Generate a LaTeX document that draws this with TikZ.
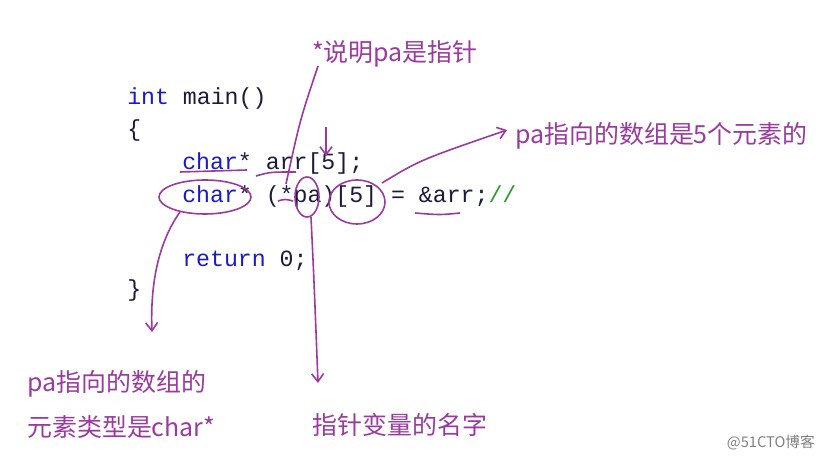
\documentclass[tikz,border=0pt]{standalone}
\usepackage{fontspec}
\setmonofont{Liberation Mono}
\newfontfamily\cjk{Noto Sans CJK SC}
\usetikzlibrary{arrows.meta}
\definecolor{pur}{HTML}{9A3A9E}
\definecolor{kw}{HTML}{1A1AC8}
\definecolor{cm}{HTML}{2E9A2E}
\definecolor{tx}{HTML}{1A1A3A}
\tikzset{
 code/.style={anchor=west,inner sep=0pt,font=\fontsize{17.4}{19}\ttfamily,text=tx},
 lbl/.style={inner sep=0pt,font=\fontsize{18.7}{21}\cjk,text=pur},
 ann/.style={draw=pur,line width=1.2pt},
 arr/.style={ann,-{Straight Barb[length=6pt,width=9pt]}}
}
\begin{document}
\begin{tikzpicture}[x=0.75pt,y=-0.75pt]
\useasboundingbox (0,0) rectangle (825,463);
\node[code] (l1) at (127,99) {\textcolor{kw}{int} main()};
\node[code] (l2) at (127,131) {\{};
\node[code] (l3) at (182,164) {\textcolor{kw}{char}* arr[5];};
\node[code] (l4) at (182,197) {\textcolor{kw}{char}* (*pa)[5] = \&arr;\textcolor{cm}{//}};
\node[code] (l5) at (182,261) {\textcolor{kw}{return} 0;};
\node[code] (l6) at (127,291) {\}};
\node[lbl] (t1) at (395,54) {*说明pa是指针};
\node[lbl,anchor=west] (t2) at (515,136) {pa指向的数组是5个元素的};
\node[lbl,anchor=west] (t3) at (27,384) {pa指向的数组的};
\node[lbl,anchor=west] (t4) at (27,427) {元素类型是char*};
\node[lbl] (t5) at (400,425) {指针变量的名字};
\node[anchor=east,inner sep=0pt,font=\fontsize{11}{13}\cjk,text=gray] (wm) at (815,443) {@51CTO博客};
\draw[ann] (205,197) ellipse [x radius=46,y radius=17];
\draw[ann] (307,197) ellipse [x radius=12,y radius=20];
\draw[ann] (357,202) ellipse [x radius=28,y radius=22];
\coordinate (e1) at (180,212);
\coordinate (e1b) at (152,332);
\coordinate (e2) at (311,217);
\coordinate (e2b) at (318,383);
\coordinate (e3) at (382,183);
\coordinate (e3b) at (507,130);
\coordinate (p1) at (318,66);
\coordinate (p1b) at (286,184);
\coordinate (s1) at (326,127);
\coordinate (s1b) at (326,156);
\draw[arr] (e1) .. controls (160,240) and (150,280) .. (e1b);
\draw[arr] (e2) .. controls (314,280) .. (e2b);
\draw[arr] (e3) .. controls (420,160) .. (e3b);
\draw[ann] (p1) .. controls (300,120) .. (p1b);
\draw[arr] (s1) -- (s1b);
\draw[ann] (180,172) -- (247,170);
\draw[ann] (256,176) .. controls (270,172) .. (296,172);
\draw[ann] (415,213) .. controls (440,215) .. (460,213);
\draw[ann] (278,201) .. controls (285,199) .. (293,201);
\end{tikzpicture}
\end{document}
